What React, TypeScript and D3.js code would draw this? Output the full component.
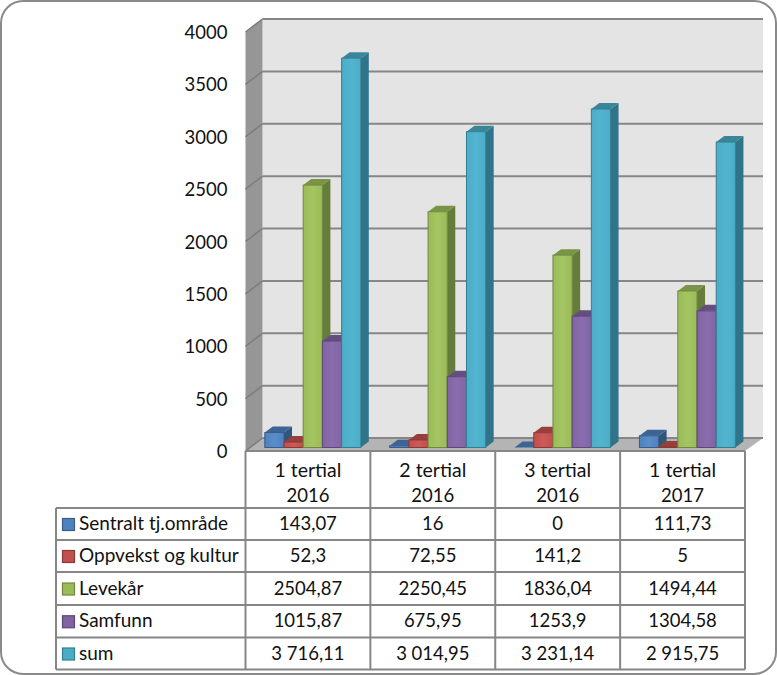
import React from "react";
import * as d3 from "d3";

const categories = [["1 tertial", "2016"], ["2 tertial", "2016"], ["3 tertial", "2016"], ["1 tertial", "2017"]];
const seriesNames = ["Sentralt tj.område", "Oppvekst og kultur", "Levekår", "Samfunn", "sum"];
const sentralt = [143.07, 16, 0, 111.73];
const oppvekst = [52.3, 72.55, 141.2, 5];
const levekar = [2504.87, 2250.45, 1836.04, 1494.44];
const samfunn = [1015.87, 675.95, 1253.9, 1304.58];
const sum = [3716.11, 3014.95, 3231.14, 2915.75];
const seriesValues = [sentralt, oppvekst, levekar, samfunn, sum];
const tableText = [
  ["143,07", "16", "0", "111,73"],
  ["52,3", "72,55", "141,2", "5"],
  ["2504,87", "2250,45", "1836,04", "1494,44"],
  ["1015,87", "675,95", "1253,9", "1304,58"],
  ["3 716,11", "3 014,95", "3 231,14", "2 915,75"],
];
const ticks = [0, 500, 1000, 1500, 2000, 2500, 3000, 3500, 4000];
const front = ["#4f81bd", "#c0504d", "#9bbb59", "#8064a2", "#4bacc6"];
const frontLight = ["#5a8dcb", "#cc5a56", "#a4c562", "#8a6dae", "#52b5d0"];
const edge = ["#385d8a", "#8c3836", "#71893f", "#5c4776", "#357d91"];
const topC = ["#3c6494", "#983e3b", "#7a9445", "#644e80", "#3a8699"];
const sideC = ["#335578", "#7f3230", "#667c3a", "#54406c", "#2f7489"];

const FONT = "Lato, 'Open Sans', sans-serif";
const GRID = "#868686";
const dx = 17, dy = 13; // wall depth
const bdx = 8, bdy = 6; // bar depth

const x = d3.scaleBand<number>().domain([0, 1, 2, 3]).range([245.5, 745]);
const yFront = d3.scaleLinear().domain([0, 4000]).range([451, 32]);
const yBar = d3.scaleLinear().domain([0, 4000]).range([447.5, 28.5]);
const rows = [508, 540, 572, 605, 637.5, 669.5];
const tableLeft = 56;
const headTop = 451;

const poly = (p: number[][]) => p.map((q) => q.join(",")).join(" ");

export default function App() {
  const x0 = x(0)!;
  const x1 = 745;
  const bw = 19.2;
  const groupOffset = 19.3;
  const colX = [...x.domain().map((d) => x(d)!), x1];
  return (
    <svg width={777} height={675} style={{ position: "absolute", left: 0, top: 0 }} fontFamily={FONT}>
      <defs>
        {front.map((c, i) => (
          <linearGradient key={i} id={`g${i}`} x1="0" x2="1" y1="0" y2="0">
            <stop offset="0" stopColor={c} />
            <stop offset="0.5" stopColor={frontLight[i]} />
            <stop offset="1" stopColor={c} />
          </linearGradient>
        ))}
      </defs>
      <rect x={1} y={1} width={775} height={673} rx={22} fill="#fff" stroke="#8a8a8a" strokeWidth={2} />

      {/* walls */}
      <polygon points={poly([[x0 + dx, yFront(4000) - dy], [x1 + dx + 1, yFront(4000) - dy], [x1 + dx + 1, yFront(0) - dy], [x0 + dx, yFront(0) - dy]])} fill="#e4e4e4" />
      <polygon points={poly([[x0, yFront(4000)], [x0 + dx, yFront(4000) - dy], [x0 + dx, yFront(0) - dy], [x0, yFront(0)]])} fill="#969696" />
      <polygon points={poly([[x0, yFront(0)], [x0 + dx, yFront(0) - dy], [x1 + dx + 1, yFront(0) - dy], [x1, yFront(0)]])} fill="#b4b4b4" />

      {ticks.map((t) => (
        <g key={t}>
          <line x1={x0 + dx} x2={x1 + dx + 1} y1={yFront(t) - dy} y2={yFront(t) - dy} stroke={GRID} strokeWidth={2} />
          <line x1={x0} x2={x0 + dx} y1={yFront(t)} y2={yFront(t) - dy} stroke="#7c7c7c" strokeWidth={1.5} />
          <text x={227.5} y={yFront(t) + 7} textAnchor="end" fontSize={18.5} fill="#111">{t}</text>
        </g>
      ))}

      {/* bars */}
      {categories.map((_, c) =>
        seriesValues.map((vals, s) => {
          const l = x(c)! + groupOffset + s * bw;
          const r = l + bw;
          const b = yBar(0);
          const t = yBar(vals[c]);
          return (
            <g key={`${c}-${s}`}>
              <polygon points={poly([[r, b], [r + bdx, b - bdy], [r + bdx, t - bdy], [r, t]])} fill={sideC[s]} />
              <polygon points={poly([[l, t], [l + bdx, t - bdy], [r + bdx, t - bdy], [r, t]])} fill={topC[s]} />
              <rect x={l} y={t} width={bw} height={b - t} fill={`url(#g${s})`} stroke={edge[s]} strokeWidth={1} />
            </g>
          );
        })
      )}

      {/* table */}
      <g stroke={GRID} strokeWidth={2} fill="none">
        <line x1={x0} x2={x1} y1={headTop} y2={headTop} />
        {rows.map((y) => <line key={y} x1={tableLeft} x2={x1} y1={y} y2={y} />)}
        <line x1={tableLeft} x2={tableLeft} y1={rows[0]} y2={rows[5]} />
        {colX.map((cx) => <line key={cx} x1={cx} x2={cx} y1={headTop} y2={rows[5]} />)}
      </g>
      {categories.map((lines, c) => (
        <text key={c} textAnchor="middle" fontSize={18.5} fill="#111">
          <tspan x={x(c)! + x.bandwidth() / 2} y={477} fontSize={19.5}>{lines[0]}</tspan>
          <tspan x={x(c)! + x.bandwidth() / 2} y={502}>{lines[1]}</tspan>
        </text>
      ))}
      {seriesNames.map((name, s) => {
        const cy = (rows[s] + rows[s + 1]) / 2;
        return (
          <g key={name}>
            <rect x={62.5} y={cy - 5.5} width={12} height={12} fill={front[s]} stroke={edge[s]} strokeWidth={1.2} />
            <text x={79} y={cy + 6} fontSize={19} fill="#111">{name}</text>
            {tableText[s].map((t, c) => (
              <text key={c} x={x(c)! + x.bandwidth() / 2} y={cy + 6} textAnchor="middle" fontSize={18.5} fill="#111">{t}</text>
            ))}
          </g>
        );
      })}
    </svg>
  );
}
